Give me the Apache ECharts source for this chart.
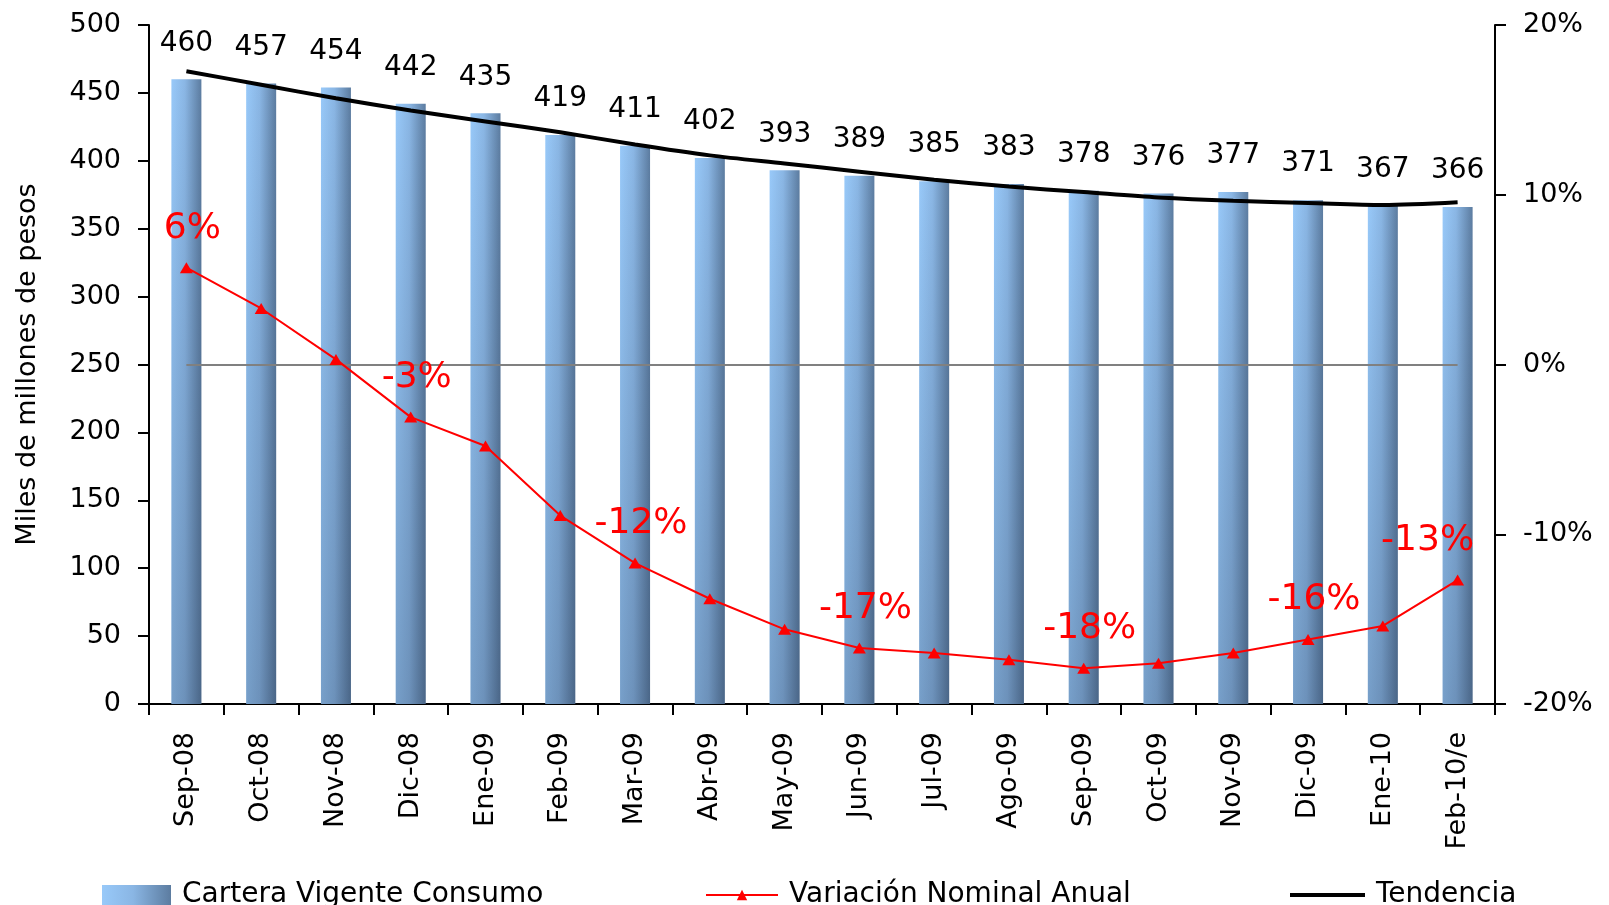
<!DOCTYPE html>
<html>
<head>
<meta charset="utf-8">
<script src="https://cdn.jsdelivr.net/npm/echarts@6/dist/echarts.min.js"></script>
<style>
  html, body { margin: 0; padding: 0; background: #fff; }
  #chart { width: 1609px; height: 905px; }
</style>
</head>
<body>
<div id="chart"></div>
<script>
// datos del grafico
const categorias = ['Sep-08', 'Oct-08', 'Nov-08', 'Dic-08', 'Ene-09', 'Feb-09', 'Mar-09', 'Abr-09', 'May-09',
    'Jun-09', 'Jul-09', 'Ago-09', 'Sep-09', 'Oct-09', 'Nov-09', 'Dic-09', 'Ene-10', 'Feb-10/e']
const carteraConsumo = [460, 457, 454, 442, 435, 419, 411, 402, 393, 389, 385, 383, 378, 376, 377, 371, 367, 366]
const variacionAnual = [5.7, 3.3, 0.3, -3.1, -4.8, -8.9, -11.7, -13.8, -15.6, -16.7, -17.0, -17.4, -17.9, -17.6, -17.0, -16.2, -15.4, -12.7]
const tendencia = [466, 456, 446, 437, 429, 421, 412, 404, 398, 392, 386, 381, 377, 373, 370.5, 369, 367.5, 369.5]
// solo algunas etiquetas de la variacion se muestran
const variacionEtiquetas = [0, 3, 6, 9, 12, 15, 17]

const FONT = 'DejaVu Sans'

const chart = echarts.init(document.getElementById('chart'))

const barColor = new echarts.graphic.LinearGradient(0, 0, 1, 0, [
    { offset: 0, color: '#98C9F9' },
    { offset: 0.45, color: '#8AB6E4' },
    { offset: 1, color: '#5C7CA0' }
])
// sombra vertical encima de las barras
const barShade = new echarts.graphic.LinearGradient(0, 0, 0, 1, [
    { offset: 0, color: 'rgba(20,35,60,0)' },
    { offset: 1, color: 'rgba(20,35,60,0.25)' }
])

const legendBase = {
    orient: 'horizontal',
    top: 876,
    itemHeight: 20,
    textStyle: { fontFamily: FONT, fontSize: 28, color: '#000', padding: [0, 0, 0, 6] }
}

// la ultima etiqueta va un poco a la izquierda para no tapar el eje
const ultimo = variacionAnual.length - 1
const variacionData = variacionAnual.map((v, i) => i === ultimo ? { value: v, label: { offset: [-30, 0] } } : v)

const option = {
    animation: false,
    backgroundColor: '#fff',
    textStyle: { fontFamily: FONT },
    grid: { left: 149, right: 114, top: 25, bottom: 201, containLabel: false },
    legend: [
        Object.assign({}, legendBase, { left: 97, itemWidth: 69, data: [{ name: 'Cartera Vigente Consumo', icon: 'rect' }] }),
        Object.assign({}, legendBase, { left: 700, itemWidth: 72, itemHeight: 13, data: ['Variación Nominal Anual'] }),
        Object.assign({}, legendBase, { left: 1285, itemWidth: 75, itemHeight: 4, data: [{ name: 'Tendencia', icon: 'rect' }] })
    ],
    xAxis: {
        type: 'category',
        data: categorias,
        boundaryGap: true,
        axisLine: { lineStyle: { color: '#000', width: 2 } },
        axisTick: { show: true, length: 11, lineStyle: { color: '#000', width: 2 } },
        axisLabel: { rotate: 90, margin: 28, fontSize: 27, color: '#000', fontFamily: FONT, interval: 0 }
    },
    yAxis: [
        {
            type: 'value',
            min: 0, max: 500, interval: 50,
            name: 'Miles de millones de pesos',
            nameLocation: 'middle',
            nameGap: 108,
            nameTextStyle: { fontSize: 27, color: '#000', fontFamily: FONT },
            axisLine: { show: true, lineStyle: { color: '#000', width: 2 } },
            axisTick: { show: true, length: 11, lineStyle: { color: '#000', width: 2 } },
            axisLabel: { margin: 28, fontSize: 27, color: '#000', fontFamily: FONT },
            splitLine: { show: false }
        },
        {
            type: 'value',
            min: -20, max: 20, interval: 10,
            position: 'right',
            axisLine: { show: true, lineStyle: { color: '#000', width: 2 } },
            axisTick: { show: true, length: 11, lineStyle: { color: '#000', width: 2 } },
            axisLabel: { margin: 28, fontSize: 27, color: '#000', fontFamily: FONT, formatter: '{value}%' },
            splitLine: { show: false }
        }
    ],
    series: [
        {
            name: 'Cartera Vigente Consumo',
            type: 'bar',
            data: carteraConsumo,
            barWidth: 30,
            itemStyle: { color: barColor },
            label: {
                show: true,
                position: 'top',
                distance: 22,
                fontSize: 28,
                color: '#000',
                fontFamily: FONT
            },
            z: 2
        },
        {
            name: 'sombra',
            type: 'bar',
            data: carteraConsumo,
            barWidth: 30,
            barGap: '-100%',
            silent: true,
            itemStyle: { color: barShade },
            z: 2
        },
        {
            name: 'Variación Nominal Anual',
            type: 'line',
            yAxisIndex: 1,
            data: variacionData,
            symbol: 'triangle',
            symbolSize: [13, 11],
            itemStyle: { color: '#FF0000' },
            lineStyle: { color: '#FF0000', width: 2 },
            label: {
                show: true,
                position: 'top',
                distance: 16,
                offset: [6, 0],
                fontSize: 36,
                color: '#FF0000',
                fontFamily: FONT,
                formatter: p => variacionEtiquetas.includes(p.dataIndex) ? Math.round(p.value) + '%' : ''
            },
            markLine: {
                silent: true,
                symbol: ['none', 'none'],
                label: { show: false },
                lineStyle: { color: '#808080', width: 2, type: 'solid' },
                data: [[{ coord: [categorias[0], 0] }, { coord: [categorias[categorias.length - 1], 0] }]]
            },
            z: 5
        },
        {
            name: 'Tendencia',
            type: 'line',
            data: tendencia,
            symbol: 'none',
            smooth: 0.3,
            itemStyle: { color: '#000' },
            lineStyle: { color: '#000', width: 4 },
            z: 4
        }
    ]
}

chart.setOption(option)
</script>
</body>
</html>
